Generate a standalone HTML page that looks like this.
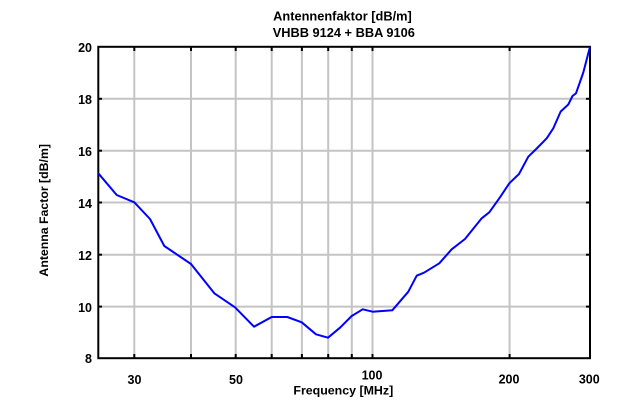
<!DOCTYPE html>
<html><head><meta charset="utf-8"><style>
html,body{margin:0;padding:0;background:#fff;}
svg{display:block;}
text{font-family:"Liberation Sans",Arial,sans-serif;font-weight:bold;fill:#000;}
</style></head><body>
<svg width="640" height="420" viewBox="0 0 640 420" xmlns="http://www.w3.org/2000/svg">
<rect x="0" y="0" width="640" height="420" fill="#fff"/>
<text x="342.5" y="20.3" font-size="12.8" text-anchor="middle">Antennenfaktor [dB/m]</text>
<text x="343.8" y="37" font-size="12.8" text-anchor="middle">VHBB 9124 + BBA 9106</text>
<g stroke="#c4c4c4" stroke-width="2" fill="none">
<line x1="134.3" y1="47" x2="134.3" y2="358"/>
<line x1="191" y1="47" x2="191" y2="358"/>
<line x1="235.7" y1="47" x2="235.7" y2="358"/>
<line x1="271.7" y1="47" x2="271.7" y2="358"/>
<line x1="301.9" y1="47" x2="301.9" y2="358"/>
<line x1="328.2" y1="47" x2="328.2" y2="358"/>
<line x1="351.8" y1="47" x2="351.8" y2="358"/>
<line x1="372.5" y1="47" x2="372.5" y2="358"/>
<line x1="509.6" y1="47" x2="509.6" y2="358"/>
<line x1="98" y1="306.6" x2="590" y2="306.6"/>
<line x1="98" y1="254.7" x2="590" y2="254.7"/>
<line x1="98" y1="202.5" x2="590" y2="202.5"/>
<line x1="98" y1="150.7" x2="590" y2="150.7"/>
<line x1="98" y1="98.8" x2="590" y2="98.8"/>
</g>
<g stroke="#000" stroke-width="2">
<line x1="134.3" y1="47" x2="134.3" y2="51"/><line x1="191" y1="47" x2="191" y2="51"/>
<line x1="235.7" y1="47" x2="235.7" y2="51"/><line x1="271.7" y1="47" x2="271.7" y2="51"/>
<line x1="301.9" y1="47" x2="301.9" y2="51"/><line x1="328.2" y1="47" x2="328.2" y2="51"/>
<line x1="351.8" y1="47" x2="351.8" y2="51"/><line x1="372.5" y1="47" x2="372.5" y2="51"/>
<line x1="509.6" y1="47" x2="509.6" y2="51"/>
<line x1="134.3" y1="358" x2="134.3" y2="354"/><line x1="191" y1="358" x2="191" y2="354"/>
<line x1="235.7" y1="358" x2="235.7" y2="354"/><line x1="271.7" y1="358" x2="271.7" y2="354"/>
<line x1="301.9" y1="358" x2="301.9" y2="354"/><line x1="328.2" y1="358" x2="328.2" y2="354"/>
<line x1="351.8" y1="358" x2="351.8" y2="354"/><line x1="372.5" y1="358" x2="372.5" y2="354"/>
<line x1="509.6" y1="358" x2="509.6" y2="354"/>
<line x1="98" y1="306.6" x2="102" y2="306.6"/><line x1="98" y1="254.7" x2="102" y2="254.7"/>
<line x1="98" y1="202.5" x2="102" y2="202.5"/><line x1="98" y1="150.7" x2="102" y2="150.7"/>
<line x1="98" y1="98.8" x2="102" y2="98.8"/>
<line x1="590" y1="306.6" x2="586" y2="306.6"/><line x1="590" y1="254.7" x2="586" y2="254.7"/>
<line x1="590" y1="202.5" x2="586" y2="202.5"/><line x1="590" y1="150.7" x2="586" y2="150.7"/>
<line x1="590" y1="98.8" x2="586" y2="98.8"/>
</g>
<rect x="98.3" y="46.8" width="491.7" height="311.4" fill="none" stroke="#000" stroke-width="2"/>
<polyline fill="none" stroke="#0000ff" stroke-width="2" stroke-linejoin="round" points="98.3,173.3 116.7,195 134.3,202.3 150,219 164.3,246 191,264 214.3,293.3 235,307.3 254,326.7 271.7,317 287.3,317 301.7,322.3 316,334.3 328,337.7 340,327.7 351.7,316 362.7,309.3 372.7,311.7 392.3,310.3 408.3,291.7 416.7,275.7 424,272.7 439.3,263.3 451.7,249.3 465,239 481.7,218.3 489.3,212.3 500,197.3 509.3,183.3 519,174 528.3,156.7 536.7,148.5 546.7,138.3 553.3,128.3 560.7,111.5 568.3,104.5 572.5,96 576,93.3 583.3,72.5 590,46.7"/>
<g font-size="12.5" text-anchor="end">
<text x="92" y="52">20</text>
<text x="92" y="104">18</text>
<text x="92" y="156">16</text>
<text x="92" y="208">14</text>
<text x="92" y="260">12</text>
<text x="92" y="312">10</text>
<text x="92" y="363">8</text>
</g>
<g font-size="12.5" text-anchor="middle">
<text x="134.5" y="383.8">30</text>
<text x="236" y="383.8">50</text>
<text x="372" y="379.6">100</text>
<text x="509" y="383.3">200</text>
<text x="589.3" y="383.3">300</text>
</g>
<text x="343.3" y="394.5" font-size="12.4" text-anchor="middle">Frequency [MHz]</text>
<text x="0" y="0" font-size="12.3" text-anchor="middle" transform="translate(47.8,210.3) rotate(-90)">Antenna Factor [dB/m]</text>
</svg>
</body></html>
